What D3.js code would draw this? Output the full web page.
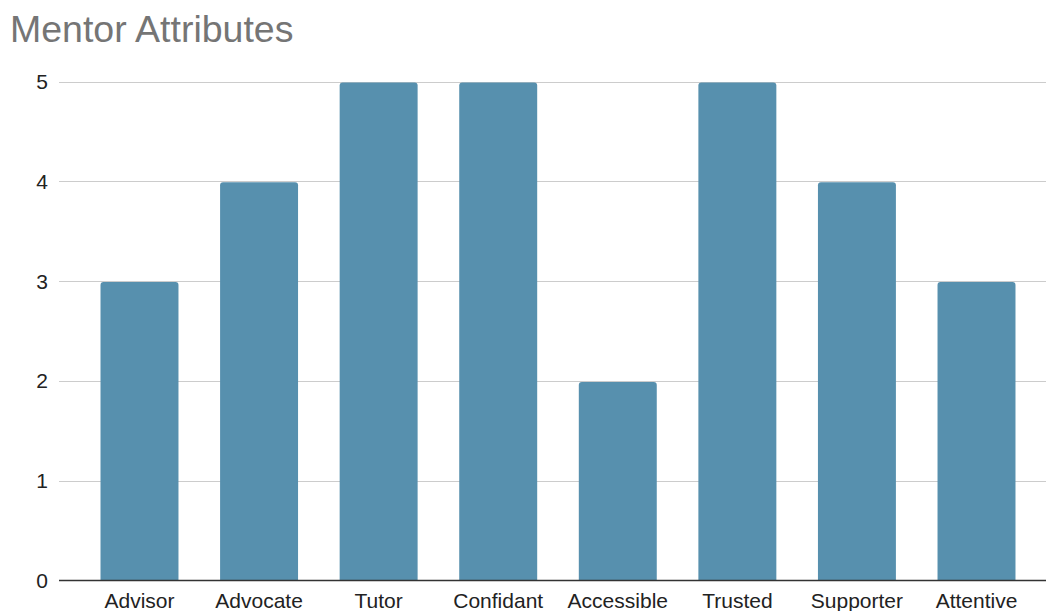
<!DOCTYPE html>
<html>
<head>
<meta charset="utf-8">
<script src="https://cdn.jsdelivr.net/npm/d3@7"></script>
<style>
  html, body { margin: 0; padding: 0; background: #fff; }
  svg { display: block; }
</style>
</head>
<body>
<svg id="chart" width="1046" height="611"></svg>
<script>
const categories = ["Advisor", "Advocate", "Tutor", "Confidant", "Accessible", "Trusted", "Supporter", "Attentive"];
const values = [3, 4, 5, 5, 2, 5, 4, 3];
const yTicks = [0, 1, 2, 3, 4, 5];
const title = "Mentor Attributes";

const svg = d3.select("#chart");
const font = "Arial, 'Liberation Sans', sans-serif";

const x = d3.scaleBand()
  .domain(categories)
  .range([59.5, 1056.5])
  .paddingInner(0.348)
  .paddingOuter(0.343);

const y = d3.scaleLinear().domain([0, 5]).range([580.5, 81.5]);

// title
svg.append("text")
  .attr("x", 10).attr("y", 41.5)
  .attr("font-family", font).attr("font-size", 37.5)
  .attr("fill", "#757575")
  .text(title);

// gridlines
svg.append("g").selectAll("line")
  .data(yTicks.filter(d => d !== 0))
  .join("line")
  .attr("x1", 59).attr("x2", 1046)
  .attr("y1", d => Math.round(y(d)) + 0.5)
  .attr("y2", d => Math.round(y(d)) + 0.5)
  .attr("stroke", "#cccccc").attr("stroke-width", 1);

// y tick labels
svg.append("g").selectAll("text")
  .data(yTicks)
  .join("text")
  .attr("x", 48)
  .attr("y", d => y(d))
  .attr("dy", "0.36em")
  .attr("text-anchor", "end")
  .attr("font-family", font).attr("font-size", 21)
  .attr("fill", "#222")
  .text(d => d);

// bars with rounded tops
const r = 3;
svg.append("g").selectAll("path")
  .data(categories.map((c, i) => ({ c, v: values[i] })))
  .join("path")
  .attr("fill", "#5790ae")
  .attr("d", d => {
    const x0 = x(d.c), x1 = x0 + x.bandwidth();
    const yt = y(d.v) + 1, yb = y(0);
    return `M${x0},${yb} L${x0},${yt + r} Q${x0},${yt} ${x0 + r},${yt} L${x1 - r},${yt} Q${x1},${yt} ${x1},${yt + r} L${x1},${yb} Z`;
  });

// baseline
svg.append("line")
  .attr("x1", 59).attr("x2", 1046)
  .attr("y1", y(0)).attr("y2", y(0))
  .attr("stroke", "#333").attr("stroke-width", 1.5);

// x labels
const xAxis = d3.axisBottom(x).tickSize(0).tickPadding(0);
const gx = svg.append("g").attr("transform", `translate(0,${y(0)})`).call(xAxis);
gx.select(".domain").remove();
gx.selectAll("text")
  .attr("y", 27).attr("dy", 0)
  .attr("font-family", font).attr("font-size", 21)
  .attr("fill", "#222");
</script>
</body>
</html>
